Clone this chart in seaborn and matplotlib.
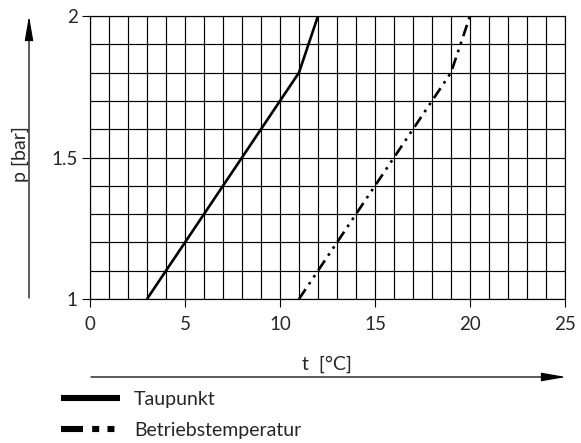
import matplotlib
matplotlib.use("Agg")
import matplotlib.pyplot as plt
import seaborn as sns
import pandas as pd
import numpy as np
from matplotlib.lines import Line2D
from matplotlib.patches import FancyArrowPatch

# ---- data ----
taupunkt_t = [3, 11, 12]
taupunkt_p = [1.0, 1.8, 2.0]
betrieb_t = [11, 19, 20]
betrieb_p = [1.0, 1.8, 2.0]
series_names = ["Taupunkt", "Betriebstemperatur"]
x_ticks = [0, 5, 10, 15, 20, 25]
y_ticks = [1, 1.5, 2]
y_tick_labels = ["1", "1.5", "2"]
x_label = "t  [°C]"
y_label = "p [bar]"

sns.set_style("white")
plt.rcParams["font.family"] = ["Lato", "DejaVu Sans"]

W, H = 581, 443
fig = plt.figure(figsize=(W / 100, H / 100), dpi=100)
ax = fig.add_axes([90 / W, 1 - 299 / H, 475 / W, 283 / H])

df_tau = pd.DataFrame({"t": taupunkt_t, "p": taupunkt_p})
df_bet = pd.DataFrame({"t": betrieb_t, "p": betrieb_p})

sns.lineplot(data=df_tau, x="t", y="p", ax=ax, color="black", lw=1.9,
             sort=False, estimator=None, solid_capstyle="butt")
sns.lineplot(data=df_bet, x="t", y="p", ax=ax, color="black", lw=1.9,
             sort=False, estimator=None, dashes=False)
ax.lines[-1].set_dashes((4.5, 2.2, 1.0, 2.2, 1.0, 2.2))
ax.lines[-1].set_dash_capstyle("butt")

ax.set_xlim(0, 25)
ax.set_ylim(1, 2)
ax.set_xticks(x_ticks)
ax.set_xticks(np.arange(0, 26, 1), minor=True)
ax.set_yticks(y_ticks)
ax.set_yticklabels(y_tick_labels)
ax.set_yticks(np.arange(1, 2.0001, 0.1), minor=True)
ax.grid(which="both", color="black", lw=0.85)
ax.set_axisbelow(True)
for s in ax.spines.values():
    s.set_color("black")
    s.set_linewidth(0.85)
ax.tick_params(axis="x", which="major", length=5.5, width=0.8, pad=7,
               labelsize=13.5, color="black", direction="out", bottom=True)
ax.tick_params(axis="y", which="major", length=6, width=0.8, pad=3,
               labelsize=13.5, color="black", direction="out", left=True)
ax.tick_params(which="minor", length=0)
ax.set_xlabel("")
ax.set_ylabel("")

# axis labels
fig.text(327 / W, 1 - 364 / H, x_label, ha="center", va="center", fontsize=14)
fig.text(20 / W, 1 - 154 / H, y_label, ha="center", va="center", fontsize=14,
         rotation=90)

# axis arrows
def px(x, y):
    return (x / W, 1 - y / H)

arr_x = FancyArrowPatch(px(91, 377), px(566, 377), transform=fig.transFigure,
                        arrowstyle="-|>,head_length=15,head_width=2.6",
                        mutation_scale=1, lw=0.9, color="black",
                        shrinkA=0, shrinkB=0)
arr_y = FancyArrowPatch(px(29, 298), px(29, 16), transform=fig.transFigure,
                        arrowstyle="-|>,head_length=15,head_width=2.6",
                        mutation_scale=1, lw=0.9, color="black",
                        shrinkA=0, shrinkB=0)
fig.patches.extend([arr_x, arr_y])

# legend
h1 = Line2D([], [], color="black", lw=4.4, solid_capstyle="butt")
h2 = Line2D([], [], color="black", lw=4.4, dash_capstyle="butt",
            dashes=(3.6, 1.5, 1.15, 1.35, 1.15, 1.5))
leg = fig.legend([h1, h2], series_names, loc="upper left",
                 bbox_to_anchor=(61 / W, 1 - 391 / H), frameon=False,
                 fontsize=14, handlelength=3.05, handletextpad=0.7,
                 labelspacing=0.7, borderpad=0, borderaxespad=0)

fig.savefig("out.png", dpi=100)
